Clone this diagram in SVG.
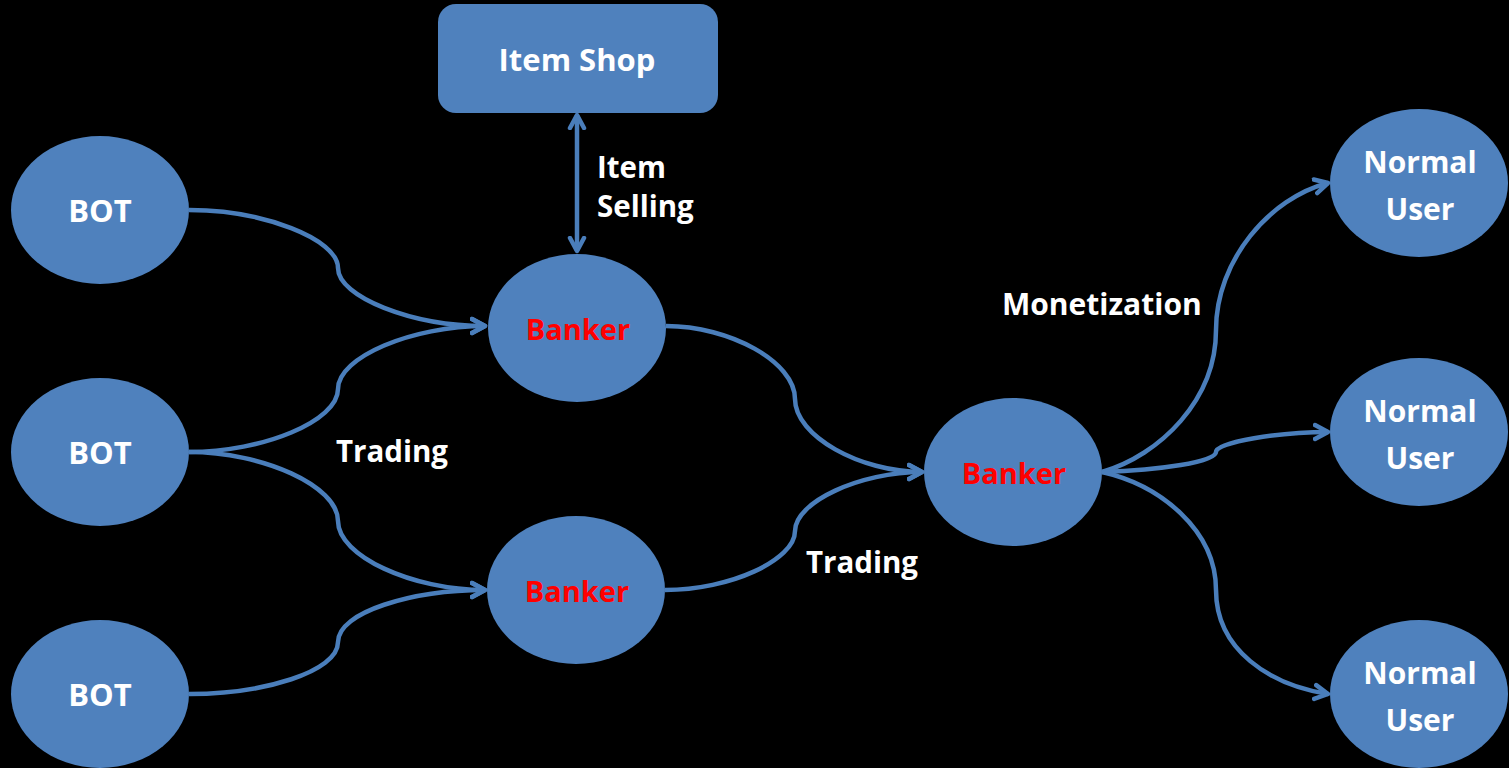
<svg xmlns="http://www.w3.org/2000/svg" width="1509" height="768" viewBox="0 0 1509 768">
<style>
.node{fill:#4f81bd;}
.lbl{font-family:"Open Sans","Liberation Sans",sans-serif;font-weight:bold;font-size:31px;fill:#ffffff;text-anchor:middle;}
.red{fill:#ff0000;font-size:29px;}
.nu{font-size:30px;}
.edge{fill:none;stroke:#4a7ebb;stroke-width:4.5;}
.free{font-family:"Open Sans","Liberation Sans",sans-serif;font-weight:bold;font-size:30px;fill:#ffffff;}
</style>
<defs>
<marker id="arr" markerUnits="userSpaceOnUse" markerWidth="20" markerHeight="20" refX="15" refY="8" orient="auto-start-reverse" viewBox="0 0 20 16">
<path d="M2,1 L15,8 L2,15" fill="none" stroke="#4a7ebb" stroke-width="4.5" stroke-linecap="round" stroke-linejoin="round"/>
</marker>
</defs>
<rect width="1509" height="768" fill="#000000"/>
<g id="connectors">
<path class="edge" d="M577,115 L577,251" marker-start="url(#arr)" marker-end="url(#arr)"/>
<path class="edge" d="M189,210 C263,210 338,239 338,268 C338,297 412,326 485,326" marker-end="url(#arr)"/>
<path class="edge" d="M189,452 C263,452 338,421 338,389 C338,357 412,326 485,326" marker-end="url(#arr)"/>
<path class="edge" d="M189,452 C263,452 338,486 338,521 C338,556 412,590 485,590" marker-end="url(#arr)"/>
<path class="edge" d="M189,694 C263,694 338,672 338,642 C338,612 412,590 485,590" marker-end="url(#arr)"/>
<path class="edge" d="M666,326 C730,326 795,362 795,399 C795,436 860,472 922,472" marker-end="url(#arr)"/>
<path class="edge" d="M665,590 C730,590 795,560 795,531 C795,502 860,472 922,472" marker-end="url(#arr)"/>
<path class="edge" d="M1102,472 C1160,455 1216,400 1216,330 C1216,260 1270,198 1328,183" marker-end="url(#arr)"/>
<path class="edge" d="M1102,472 C1160,470 1216,462 1216,452 C1216,442 1280,432 1328,432" marker-end="url(#arr)"/>
<path class="edge" d="M1102,472 C1160,485 1216,530 1216,590 C1216,650 1270,685 1328,694" marker-end="url(#arr)"/>
</g>
<g id="itemshop">
<rect class="node" x="438" y="4" width="280" height="109" rx="18"/>
<text class="lbl" x="577" y="71">Item Shop</text>
</g>
<g id="bot1">
<ellipse class="node" cx="100" cy="210" rx="89" ry="74"/>
<text class="lbl" x="100" y="222">BOT</text>
</g>
<g id="bot2">
<ellipse class="node" cx="100" cy="452" rx="89" ry="74"/>
<text class="lbl" x="100" y="464">BOT</text>
</g>
<g id="bot3">
<ellipse class="node" cx="100" cy="694" rx="89" ry="74"/>
<text class="lbl" x="100" y="706">BOT</text>
</g>
<g id="banker1">
<ellipse class="node" cx="577" cy="328" rx="89" ry="74"/>
<text class="lbl red" x="578" y="340">Banker</text>
</g>
<g id="banker2">
<ellipse class="node" cx="576" cy="590" rx="89" ry="74"/>
<text class="lbl red" x="577" y="602">Banker</text>
</g>
<g id="banker3">
<ellipse class="node" cx="1013" cy="472" rx="89" ry="74"/>
<text class="lbl red" x="1014" y="484">Banker</text>
</g>
<g id="user1">
<ellipse class="node" cx="1419" cy="183" rx="89" ry="74"/>
<text class="lbl nu" x="1420" y="173">Normal</text>
<text class="lbl nu" x="1420" y="220">User</text>
</g>
<g id="user2">
<ellipse class="node" cx="1419" cy="432" rx="89" ry="74"/>
<text class="lbl nu" x="1420" y="422">Normal</text>
<text class="lbl nu" x="1420" y="469">User</text>
</g>
<g id="user3">
<ellipse class="node" cx="1419" cy="694" rx="89" ry="74"/>
<text class="lbl nu" x="1420" y="684">Normal</text>
<text class="lbl nu" x="1420" y="731">User</text>
</g>
<g id="labels">
<text class="free" x="597" y="178" style="font-size:29.5px">Item</text>
<text class="free" x="597" y="217" style="font-size:29.5px">Selling</text>
<text class="free" x="336" y="462" style="font-size:29.5px">Trading</text>
<text class="free" x="806" y="573" style="font-size:29.5px">Trading</text>
<text class="free" x="1002" y="315">Monetization</text>
</g>
</svg>
